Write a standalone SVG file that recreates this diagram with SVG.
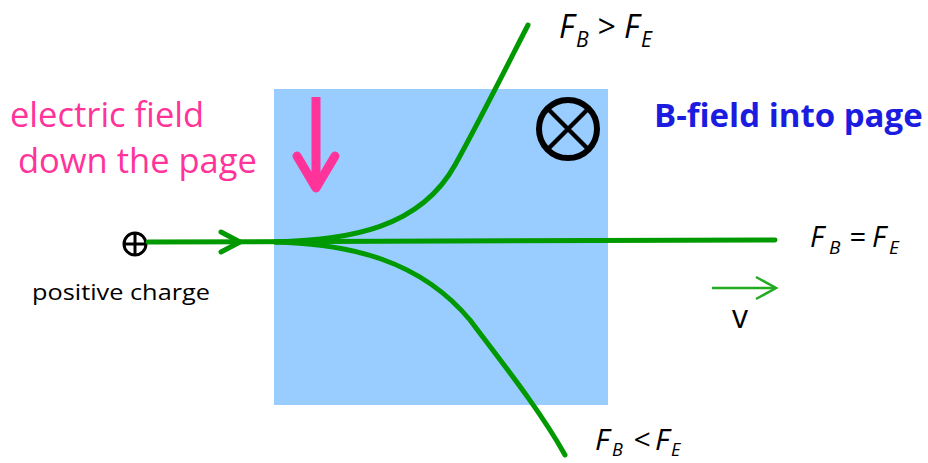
<svg xmlns="http://www.w3.org/2000/svg" width="928" height="463" viewBox="0 0 928 463">
<style>
.tr{fill:none;stroke:#009900;stroke-width:5;stroke-linecap:round;stroke-linejoin:round}
.lbl{font-family:"Open Sans","Liberation Sans",sans-serif;font-style:italic;fill:#000}
.t{font-family:"Open Sans","Liberation Sans",sans-serif}
</style>
<rect id="field" x="274" y="89" width="334" height="316" fill="#99CCFF"/>
<g id="labels-left" class="t" font-size="34.5" fill="#FF3399">
<text x="10" y="127">electric field</text>
<text x="18" y="173">down the page</text>
</g>
<g id="efield-arrow" fill="none" stroke="#FF3399" stroke-width="9" stroke-linejoin="round">
<line x1="316" y1="97" x2="316" y2="186"/>
<polyline points="297,156 316,188 335,156" stroke-linecap="round"/>
</g>
<g id="bfield">
<circle cx="568" cy="129" r="29" fill="none" stroke="#000" stroke-width="6"/>
<line x1="548" y1="109" x2="588" y2="149" stroke="#000" stroke-width="4.5"/>
<line x1="588" y1="109" x2="548" y2="149" stroke="#000" stroke-width="4.5"/>
<text class="t" x="654" y="127" font-size="33" font-weight="bold" fill="#1C1CE0">B-field into page</text>
</g>
<g id="charge">
<circle cx="135" cy="244" r="11" fill="#fff" stroke="#000" stroke-width="3"/>
<line x1="124" y1="244" x2="146" y2="244" stroke="#000" stroke-width="3"/>
<line x1="135" y1="233" x2="135" y2="255" stroke="#000" stroke-width="3"/>
<text class="t" x="32" y="300" font-size="22" textLength="178" lengthAdjust="spacingAndGlyphs">positive charge</text>
</g>
<g id="connectors">
<line class="tr" x1="148" y1="242" x2="775" y2="240"/>
<polyline class="tr" points="221,232 240,242 221,252"/>
<path class="tr" d="M275,242 C350,240 420,228 455,165 C480,120 510,60 528,25"/>
<path class="tr" d="M275,242 C350,244 420,260 470,320 C500,360 540,410 565,455"/>
</g>
<g id="velocity">
<line x1="712" y1="288" x2="776" y2="288" stroke="#22AA22" stroke-width="2.5"/>
<polyline points="756,277 776,288 756,299" fill="none" stroke="#22AA22" stroke-width="2.5"/>
<text class="t" x="732" y="328" font-size="32" fill="#000">v</text>
</g>
<g id="cond-top" class="lbl"><text y="38" font-size="32"><tspan x="559">F</tspan><tspan x="576" y="47" font-size="21">B</tspan><tspan x="597" y="38">&gt;</tspan><tspan x="624">F</tspan><tspan x="641" y="47" font-size="21">E</tspan></text></g>
<g id="cond-mid" class="lbl"><text y="247" font-size="29"><tspan x="810">F</tspan><tspan x="829" y="254" font-size="19">B</tspan><tspan x="849" y="247">=</tspan><tspan x="872">F</tspan><tspan x="889" y="254" font-size="19">E</tspan></text></g>
<g id="cond-bot" class="lbl"><text y="450" font-size="30"><tspan x="595">F</tspan><tspan x="612" y="456" font-size="18">B</tspan><tspan x="633" y="450">&lt;</tspan><tspan x="655">F</tspan><tspan x="671" y="456" font-size="18">E</tspan></text></g>
</svg>
